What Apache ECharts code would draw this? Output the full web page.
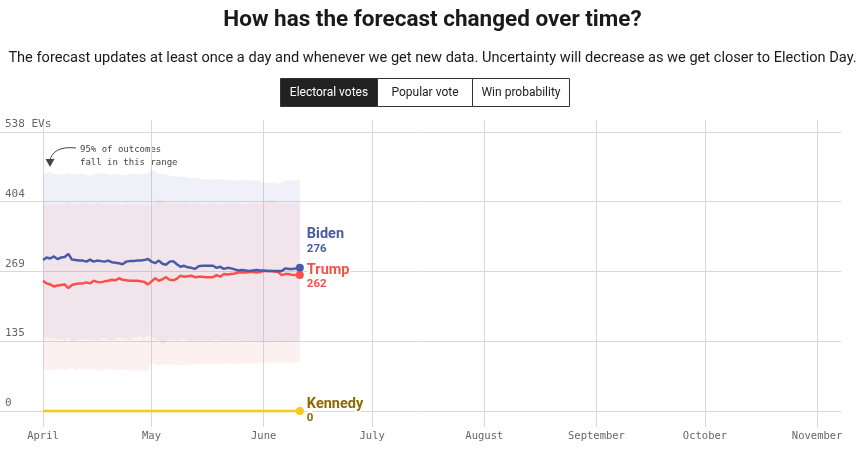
<!DOCTYPE html>
<html>
<head>
<meta charset="utf-8">
<script src="https://cdn.jsdelivr.net/npm/echarts@6/dist/echarts.min.js"></script>
<style>
html,body{margin:0;padding:0;background:#fff;}
#chart{width:865px;height:456px;}
</style>
</head>
<body>
<div id="chart"></div>
<script>
// ---------- DATA ----------
const startDay = '2024-04-01';
const bidenEV = [291,296,294,298,293,296,297,303,292,291,290,290,288,292,288,290,289,288,290,287,286,285,283,288,289,289,290,290,291,293,288,285,290,284,282,288,289,283,278,280,277,276,274,279,280,280,280,280,276,278,274,276,275,273,271,272,271,270,271,272,271,271,270,270,270,270,270,275,274,274,275,276];
const trumpEV = [251,246,244,240,242,243,244,237,243,245,246,246,248,246,251,249,248,250,251,253,252,256,253,252,251,251,251,250,249,244,250,256,251,254,258,253,252,255,261,259,260,261,258,259,259,258,258,258,262,259,264,263,264,265,267,267,267,268,268,267,268,270,270,270,269,268,262,264,264,262,262,262];
const kennedyEV = [0,0,0,0,0,0,0,0,0,0,0,0,0,0,0,0,0,0,0,0,0,0,0,0,0,0,0,0,0,0,0,0,0,0,0,0,0,0,0,0,0,0,0,0,0,0,0,0,0,0,0,0,0,0,0,0,0,0,0,0,0,0,0,0,0,0,0,0,0,0,0,0];
const bidenHigh = [457,459,461,458,456,455,457,459,456,455,457,458,455,454,456,457,459,458,456,455,457,456,454,456,458,457,455,456,457,458,466,462,458,457,456,454,453,452,451,452,450,449,450,448,447,448,446,447,446,448,446,445,446,444,445,444,446,445,444,445,443,441,440,439,441,438,440,444,445,444,445,446];
const bidenLow = [140,142,139,141,138,140,137,141,133,137,139,138,140,136,139,137,140,141,138,136,139,142,140,138,137,141,143,144,140,146,145,139,137,128,134,137,139,136,138,140,137,134,137,135,137,136,134,136,138,137,135,136,134,135,137,135,134,136,133,135,132,134,131,133,135,133,132,134,135,133,134,134];
const trumpHigh = [398,396,399,397,398,400,398,403,399,397,398,400,399,396,398,401,399,397,399,398,400,398,396,398,400,397,399,398,396,397,395,400,410,404,401,399,402,400,398,401,399,398,400,402,399,398,400,401,399,398,400,399,401,398,400,399,398,400,399,401,400,402,405,408,404,400,399,401,400,399,400,401];
const trumpLow = [79,81,80,78,80,82,79,80,83,78,80,81,79,80,82,79,77,80,81,79,78,81,80,79,77,80,79,78,77,76,92,89,88,90,89,88,90,89,88,89,90,89,91,90,89,91,90,92,91,90,91,92,91,90,92,91,92,93,92,91,93,94,92,93,95,92,93,94,93,92,94,94];
const monthLabels = ['April','May','June','July','August','September','October','November'];
const monthStarts = ['2024-04-01','2024-05-01','2024-06-01','2024-07-01','2024-08-01','2024-09-01','2024-10-01','2024-11-01'];
const yTicks = [0,135,269,404,538];
const yTickLabels = ['0','135','269','404','538 EVs'];

// ---------- BUILD ----------
const DAY = 86400000;
const t0 = new Date(startDay).getTime();
const dates = bidenEV.map((_, i) => t0 + i * DAY);
const pair = arr => arr.map((v, i) => [dates[i], v]);
const diff = (hi, lo) => hi.map((v, i) => [dates[i], v - lo[i]]);
const last = bidenEV.length - 1;

const BLUE = '#4a5ba6', RED = '#f9514a', YEL = '#f7c81e';
const MONO = '"DejaVu Sans Mono", monospace';
const SANS = 'Roboto, "Noto Sans", sans-serif';

const chart = echarts.init(document.getElementById('chart'), null, {renderer: 'canvas'});

function lineSeries(name, data, color, labelColor, offsetY, z) {
  const halo = {textBorderColor: '#ffffff', textBorderWidth: 4};
  return {
    name, type: 'line', data: pair(data), z,
    showAllSymbol: true,
    symbol: 'circle',
    symbolSize: (v, p) => p.dataIndex === last ? 8 : 0,
    itemStyle: {color},
    lineStyle: {color, width: 2.5},
    emphasis: {disabled: true},
    endLabel: {
      show: true, distance: 7, offset: [0, offsetY],
      formatter: p => '{n|' + name + '}\n{v|' + p.value[1] + '}',
      rich: {
        n: Object.assign({fontFamily: SANS, fontWeight: 'bold', fontSize: 14.5, color: labelColor, lineHeight: 15}, halo),
        v: Object.assign({fontFamily: SANS, fontWeight: 'bold', fontSize: 11.5, color: labelColor, lineHeight: 14}, halo)
      }
    }
  };
}

const xMin = t0 - 11.89 * DAY;
const xMax = t0 + 220.6 * DAY;

const option = {
  animation: false,
  grid: {left: 0, right: 24, top: 120, bottom: 29},
  xAxis: {type: 'time', min: xMin, max: xMax, show: false},
  yAxis: {type: 'value', min: -30.85, max: 561.1, show: false},
  series: [
    {
      name: 'grid', type: 'line', data: [], z: 0, silent: true,
      markLine: {
        silent: true, symbol: 'none', animation: false, z: 0,
        lineStyle: {color: '#d8d8d8', width: 1, type: 'solid'},
        data: [
          ...yTicks.map((v, i) => ({yAxis: v, label: {show: true, position: 'insideStartTop', distance: [5, 2], formatter: yTickLabels[i], fontFamily: MONO, fontSize: 11, color: '#666'}})),
          ...monthStarts.map((d, i) => ({xAxis: new Date(d).getTime(), label: {show: true, position: 'start', distance: 4, formatter: monthLabels[i], fontFamily: MONO, fontSize: 10.5, color: '#666'}}))
        ]
      }
    },
    {name: 'bLow', type: 'line', stack: 'b', data: pair(bidenLow), symbol: 'none', lineStyle: {width: 0}, z: 1, silent: true},
    {name: 'bBand', type: 'line', stack: 'b', data: diff(bidenHigh, bidenLow), symbol: 'none', lineStyle: {width: 0}, areaStyle: {color: 'rgba(145,150,200,0.19)'}, z: 1, silent: true},
    {name: 'tLow', type: 'line', stack: 't', data: pair(trumpLow), symbol: 'none', lineStyle: {width: 0}, z: 2, silent: true},
    {name: 'tBand', type: 'line', stack: 't', data: diff(trumpHigh, trumpLow), symbol: 'none', lineStyle: {width: 0}, areaStyle: {color: 'rgba(245,160,160,0.22)'}, z: 2, silent: true},
    lineSeries('Kennedy', kennedyEV, YEL, '#8c6a00', 0, 3),
    lineSeries('Trump', trumpEV, RED, RED, 2, 4),
    lineSeries('Biden', bidenEV, BLUE, BLUE, -26, 5)
  ],
  graphic: [
    {type: 'text', left: 'center', top: 9, style: {text: 'How has the forecast changed over time?', font: 'bold 22.5px ' + SANS, fill: '#1a1a1a'}},
    {type: 'text', left: 'center', top: 51, style: {text: 'The forecast updates at least once a day and whenever we get new data. Uncertainty will decrease as we get closer to Election Day.', font: '14.6px ' + SANS, fill: '#1a1a1a'}},
    {type: 'rect', shape: {x: 280.5, y: 78.5, width: 97, height: 28}, style: {fill: '#222', stroke: '#333', lineWidth: 1}},
    {type: 'rect', shape: {x: 377.5, y: 78.5, width: 95, height: 28}, style: {fill: '#fff', stroke: '#333', lineWidth: 1}},
    {type: 'rect', shape: {x: 472.5, y: 78.5, width: 97, height: 28}, style: {fill: '#fff', stroke: '#333', lineWidth: 1}},
    {type: 'text', x: 329, y: 93, style: {text: 'Electoral votes', font: '12px ' + SANS, fill: '#fff', align: 'center', verticalAlign: 'middle'}},
    {type: 'text', x: 425, y: 93, style: {text: 'Popular vote', font: '12px ' + SANS, fill: '#222', align: 'center', verticalAlign: 'middle'}},
    {type: 'text', x: 521, y: 93, style: {text: 'Win probability', font: '12px ' + SANS, fill: '#222', align: 'center', verticalAlign: 'middle'}},
    {type: 'text', x: 80, y: 143, style: {text: '95% of outcomes\nfall in this range', font: '9px ' + MONO, fill: '#444', lineHeight: 13}},
    {type: 'bezierCurve', shape: {x1: 76, y1: 148, cpx1: 60, cpy1: 146, cpx2: 51, cpy2: 152, x2: 50, y2: 161}, style: {stroke: '#444', lineWidth: 1, fill: null}},
    {type: 'polygon', shape: {points: [[45.5, 159], [54.5, 159], [50, 167]]}, style: {fill: '#444'}}
  ]
};
chart.setOption(option);
</script>
</body>
</html>
